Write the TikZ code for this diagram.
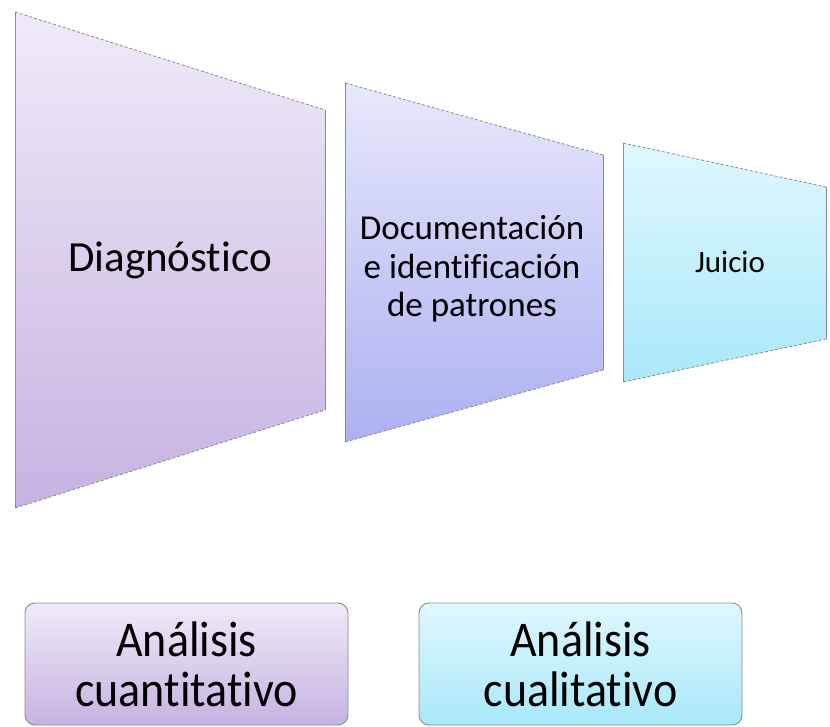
\documentclass[tikz,border=0pt]{standalone}
\usepackage{fontspec}
\setmainfont{Carlito}[Ligatures={NoCommon,NoContextual}]
\newfontfamily\condfont{Carlito}[FakeStretch=0.92, Ligatures={NoCommon,NoContextual}]
\definecolor{lilaTop}{HTML}{EFEAF8}
\definecolor{lilaBot}{HTML}{C6B3E1}
\definecolor{azulTop}{HTML}{E6E8FB}
\definecolor{azulBot}{HTML}{ACB0F0}
\definecolor{cianTop}{HTML}{DFF7FE}
\definecolor{cianBot}{HTML}{A9E8F9}
\definecolor{borde}{HTML}{8C8C8C}
\tikzset{
  lado/.style={draw=borde, line width=0.9pt},
  sesgo/.style={draw=borde, line width=0.8pt, densely dashed},
  caja/.style={draw=borde, line width=0.9pt, rounded corners=10pt, minimum width=323pt, minimum height=122pt, align=center, inner sep=0pt},
  etiqueta/.style={align=center, inner sep=0pt}
}
\begin{document}
\begin{tikzpicture}[x=1pt, y=-1pt]
        \useasboundingbox (0,0) rectangle (830,727);

        % Trapecios
        \shade[top color=lilaTop, bottom color=lilaBot] (15,12) -- (325,110) -- (325,410) -- (15,508) -- cycle;
        \draw[lado] (15,12) -- (15,508) (325,110) -- (325,410);
        \draw[sesgo] (15,12) -- (325,110) (15,508) -- (325,410);

        \shade[top color=azulTop, bottom color=azulBot] (345,83) -- (603,155) -- (603,370) -- (345,442) -- cycle;
        \draw[lado] (345,83) -- (345,442) (603,155) -- (603,370);
        \draw[sesgo] (345,83) -- (603,155) (345,442) -- (603,370);

        \shade[top color=cianTop, bottom color=cianBot] (623,143) -- (826,187) -- (826,339) -- (623,382) -- cycle;
        \draw[lado] (623,143) -- (623,382) (826,187) -- (826,339);
        \draw[sesgo] (623,143) -- (826,187) (623,382) -- (826,339);

        % Nodes
        \node (diag) [etiqueta, anchor=base, font=\fontsize{43}{46}\selectfont] at (170,272) {Diagnóstico};
        \node (docu) [etiqueta, font=\fontsize{35}{38.5}\selectfont] at (472,269) {Documentación\\e identificación\\de patrones};
        \node (juicio) [etiqueta, anchor=base, font=\fontsize{31}{34}\selectfont] at (730,273) {Juicio};

        \node (cuanti) [caja, top color=lilaTop, bottom color=lilaBot, font=\condfont\fontsize{50}{50}\selectfont] at (186.5,664) {Análisis\\cuantitativo};
        \node (cuali) [caja, top color=cianTop, bottom color=cianBot, font=\condfont\fontsize{50}{50}\selectfont] at (580.5,664) {Análisis\\cualitativo};
\end{tikzpicture}
\end{document}
